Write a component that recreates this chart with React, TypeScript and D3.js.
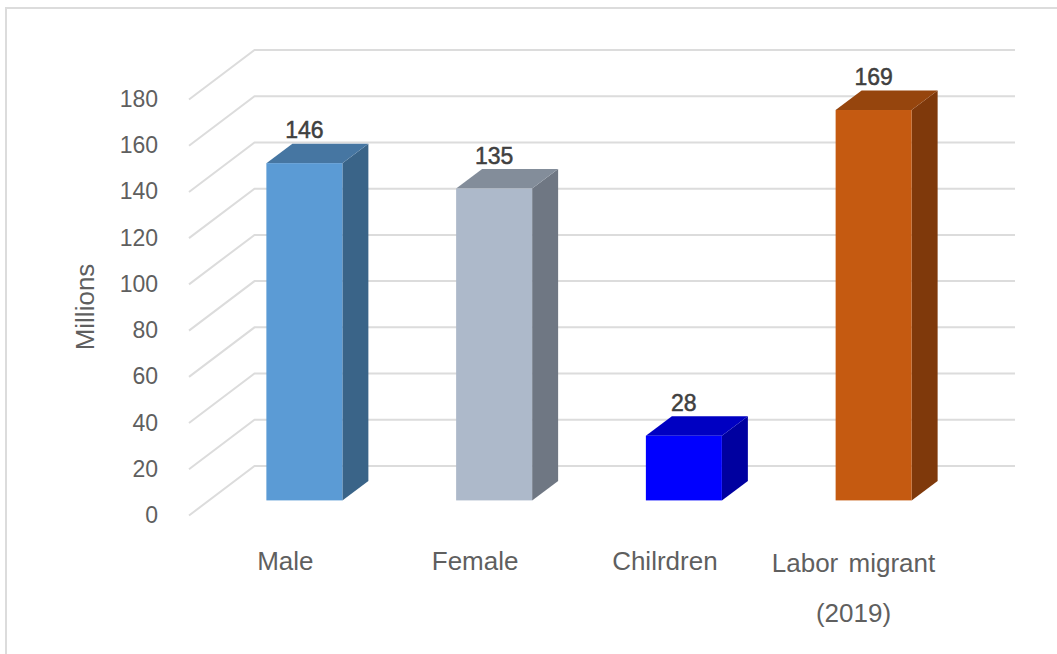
import React from "react";
import * as d3 from "d3";

const categories = ["Male", "Female", "Chilrdren", "Labor migrant"];
const values = [146, 135, 28, 169];
const ticks = [0, 20, 40, 60, 80, 100, 120, 140, 160, 180];
const frontColors = ["#5B9BD5", "#ADB9CA", "#0000FF", "#C55A11"];
const topColors = ["#4676A2", "#838D9A", "#0000C2", "#96450D"];
const sideColors = ["#3A6488", "#6F7783", "#0000A0", "#7F390B"];
const FONT = "'Liberation Sans', Arial, sans-serif";

const dx = 26, dy = 19.5, barW = 76;

export default function App() {
  const axisFront = d3.scaleLinear().domain([0, 180]).range([515.5, 99.5]);
  const axisBack = d3.scaleLinear().domain([0, 180]).range([466, 50]);
  const barY = d3.scaleLinear().domain([0, 180]).range([500.4, 84.6]);
  const x = d3.scaleBand<string>().domain(categories).range([209.5, 968.5]).paddingInner(0).paddingOuter(0);
  const barX = (c: string) => (x(c) as number) + x.bandwidth() / 2 - barW / 2;
  const poly = (pts: [number, number][]) => pts.map(p => p.join(",")).join(" ");
  return (
    <svg width={1057} height={654} viewBox="0 0 1057 654" style={{ position: "absolute", left: 0, top: 0, background: "#fff" }} fontFamily={FONT}>
      <polyline points="1057,8 6,8 6,654" fill="none" stroke="#DCDCDC" strokeWidth={2} />
      {ticks.map(t => (
        <g key={t}>
          <polyline
            points={poly([[189, axisFront(t)], [254.5, axisBack(t)], [1015, axisBack(t)]])}
            fill="none" stroke="#DCDCDC" strokeWidth={2}
          />
          <text x={158} y={axisFront(t) + 7.5} textAnchor="end" fontSize={23} fill="#5F5F5F">{t}</text>
        </g>
      ))}
      <text transform="translate(94,307) rotate(-90)" textAnchor="middle" fontSize={26} fill="#5F5F5F">Millions</text>
      {categories.map((c, i) => {
        const x0 = barX(c), x1 = x0 + barW, b = barY(0), tp = barY(values[i]);
        return (
          <g key={c}>
            <polygon points={poly([[x1, b], [x1 + dx, b - dy], [x1 + dx, tp - dy], [x1, tp]])} fill={sideColors[i]} />
            <polygon points={poly([[x0, tp], [x0 + dx, tp - dy], [x1 + dx, tp - dy], [x1, tp]])} fill={topColors[i]} />
            <rect x={x0} y={tp} width={barW} height={b - tp} fill={frontColors[i]} />
            <text x={x0 + barW / 2} y={tp - 25} textAnchor="middle" fontSize={23} fill="#404040" stroke="#404040" strokeWidth={0.5}>{values[i]}</text>
          </g>
        );
      })}
      {categories.slice(0, 3).map(c => (
        <text key={c} x={barX(c) + barW / 2 - 19} y={570} textAnchor="middle" fontSize={26} fill="#5F5F5F">{c}</text>
      ))}
      <text x={853.5} y={572} textAnchor="middle" fontSize={26} fill="#5F5F5F" wordSpacing={3}>{categories[3]}</text>
      <text x={853.5} y={622} textAnchor="middle" fontSize={26} fill="#5F5F5F">(2019)</text>
    </svg>
  );
}
